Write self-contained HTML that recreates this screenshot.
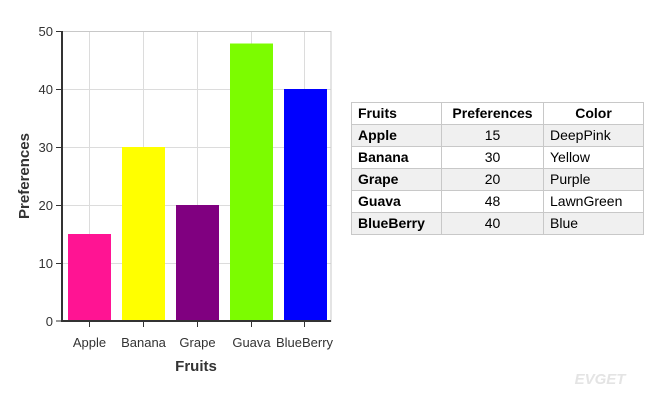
<!DOCTYPE html>
<html><head><style>
body{margin:0;background:#fff;width:650px;height:400px;overflow:hidden;font-family:"Liberation Sans",sans-serif}
table{position:absolute;left:351px;top:102px;border-collapse:collapse;font-size:14px;color:#000}
td{border:1px solid #c8c8c8;height:21px;padding:0 6px;line-height:21px;box-sizing:border-box}
tr.g td{background:#f0f0f0}
</style></head><body>
<svg width="650" height="400" style="position:absolute;left:0;top:0" font-family="Liberation Sans, sans-serif">
<g stroke="#dcdcdc" stroke-width="1">
<line x1="62" y1="263.5" x2="331" y2="263.5"/><line x1="62" y1="205.5" x2="331" y2="205.5"/>
<line x1="62" y1="147.5" x2="331" y2="147.5"/><line x1="62" y1="89.5" x2="331" y2="89.5"/>
<line x1="89.5" y1="31" x2="89.5" y2="321"/><line x1="143.5" y1="31" x2="143.5" y2="321"/>
<line x1="197.5" y1="31" x2="197.5" y2="321"/><line x1="251.5" y1="31" x2="251.5" y2="321"/>
<line x1="304.5" y1="31" x2="304.5" y2="321"/>
</g>
<rect x="62" y="31.5" width="269" height="290" fill="none" stroke="#c8c8c8"/>
<rect x="68" y="234" width="43" height="87" fill="#ff1493"/>
<rect x="122" y="147" width="43" height="174" fill="#ffff00"/>
<rect x="176" y="205" width="43" height="116" fill="#800080"/>
<rect x="230" y="43.5" width="43" height="277.5" fill="#7cfc00"/>
<rect x="284" y="89" width="43" height="232" fill="#0000ff"/>
<line x1="62" y1="31" x2="62" y2="322" stroke="#333" stroke-width="2"/>
<line x1="61" y1="321" x2="331" y2="321" stroke="#333" stroke-width="2"/>
<g stroke="#333"><line x1="56" y1="31.5" x2="62" y2="31.5"/><line x1="56" y1="89.5" x2="62" y2="89.5"/><line x1="56" y1="147.5" x2="62" y2="147.5"/><line x1="56" y1="205.5" x2="62" y2="205.5"/><line x1="56" y1="263.5" x2="62" y2="263.5"/><line x1="56" y1="321" x2="62" y2="321"/>
<line x1="89.5" y1="321" x2="89.5" y2="327"/><line x1="143.5" y1="321" x2="143.5" y2="327"/><line x1="197.5" y1="321" x2="197.5" y2="327"/><line x1="251.5" y1="321" x2="251.5" y2="327"/><line x1="304.5" y1="321" x2="304.5" y2="327"/></g>
<g font-size="13" fill="#333" text-anchor="end"><text x="53" y="36">50</text><text x="53" y="94">40</text><text x="53" y="152">30</text><text x="53" y="210">20</text><text x="53" y="268">10</text><text x="53" y="326">0</text></g>
<g font-size="13" fill="#333" text-anchor="middle"><text x="89.5" y="347">Apple</text><text x="143.5" y="347">Banana</text><text x="197.5" y="347">Grape</text><text x="251.5" y="347">Guava</text><text x="304.5" y="347">BlueBerry</text></g>
<text x="196" y="371" font-size="15" font-weight="bold" fill="#333" text-anchor="middle">Fruits</text>
<text transform="translate(29,176) rotate(-90)" font-size="15" font-weight="bold" fill="#333" text-anchor="middle">Preferences</text>
<text x="600" y="384" font-size="15" font-style="italic" font-weight="bold" fill="#e4e4e4" text-anchor="middle">EVGET</text>
</svg>
<table>
<tr><td style="width:90px;font-weight:bold">Fruits</td><td style="width:102px;font-weight:bold;text-align:center">Preferences</td><td style="width:100px;font-weight:bold;text-align:center">Color</td></tr>
<tr class="g"><td style="font-weight:bold">Apple</td><td style="text-align:center">15</td><td>DeepPink</td></tr>
<tr><td style="font-weight:bold">Banana</td><td style="text-align:center">30</td><td>Yellow</td></tr>
<tr class="g"><td style="font-weight:bold">Grape</td><td style="text-align:center">20</td><td>Purple</td></tr>
<tr><td style="font-weight:bold">Guava</td><td style="text-align:center">48</td><td>LawnGreen</td></tr>
<tr class="g"><td style="font-weight:bold">BlueBerry</td><td style="text-align:center">40</td><td>Blue</td></tr>
</table>
</body></html>
